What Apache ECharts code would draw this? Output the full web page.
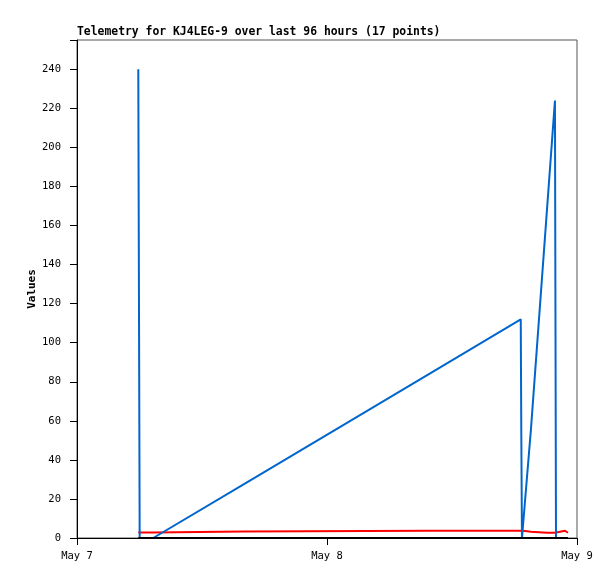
<!DOCTYPE html>
<html>
<head>
<meta charset="utf-8">
<script src="https://cdn.jsdelivr.net/npm/echarts@6/dist/echarts.min.js"></script>
<style>
html,body{margin:0;padding:0;background:#fff;}
#chart{width:615px;height:579px;}
</style>
</head>
<body>
<div id="chart"></div>
<script>
// Timestamps of the 17 telemetry points
const times = [
  "2024-05-07T05:53", "2024-05-07T05:57", "2024-05-07T06:01", "2024-05-07T07:19",
  "2024-05-07T16:02", "2024-05-08T09:42", "2024-05-08T18:36", "2024-05-08T18:39",
  "2024-05-08T18:43", "2024-05-08T18:49", "2024-05-08T19:35", "2024-05-08T21:07",
  "2024-05-08T21:53", "2024-05-08T21:56", "2024-05-08T21:59", "2024-05-08T22:51",
  "2024-05-08T23:08"
];
const blueValues  = [240, 120, 0, 0, 27.6, 83.7, 112, 56, 0, 0, 56, 168, 224, 112, 0, 0, 0];
const redValues   = [2.8, 2.8, 2.8, 2.8, 3.3, 3.7, 3.7, 3.7, 3.7, 3.7, 3.2, 2.7, 2.7, 2.7, 2.7, 3.7, 2.7];
const blackValues = [0, 0, 0, 0, 0, 0, 0, 0, 0, 0, 0, 0, 0, 0, 0, 0, 0];
const axisStart = "2024-05-07T00:00";
const xTickLabels = ["May 7", "May 8", "May 9"];
const yMax = 255;

const t0 = Date.parse(axisStart);
const hrs = times.map(t => (Date.parse(t) - t0) / 3600000);
const pair = vals => hrs.map((h, i) => [h, vals[i]]);

const chart = echarts.init(document.getElementById('chart'), null, {renderer: 'canvas'});
const mono = "'DejaVu Sans Mono', monospace";
const lineSeries = (name, vals, color, z) => ({
  name, type: 'line', data: pair(vals), showSymbol: false, symbol: 'none',
  lineStyle: {color, width: 2}, itemStyle: {color}, animation: false, clip: false, z
});
chart.setOption({
  animation: false,
  title: {
    text: 'Telemetry for KJ4LEG-9 over last 96 hours (17 points)',
    left: 72, top: 22,
    textStyle: {fontFamily: mono, fontSize: 11.4, fontWeight: 'bold', color: '#000'}
  },
  grid: {left: 77, right: 38, top: 40, bottom: 41, show: true, borderColor: '#555', borderWidth: 1},
  xAxis: {
    type: 'value', min: 0, max: 48, interval: 24,
    axisLine: {show: true, lineStyle: {color: '#000', width: 1}},
    axisTick: {show: true, inside: false, length: 7, lineStyle: {color: '#000'}},
    splitLine: {show: false},
    axisLabel: {
      color: '#000', fontFamily: mono, fontSize: 10.5, margin: 13,
      formatter: v => xTickLabels[Math.round(v / 24)] || ''
    }
  },
  yAxis: {
    type: 'value', min: 0, max: yMax, interval: 20,
    name: 'Values', nameLocation: 'middle', nameGap: 39, nameRotate: 90,
    nameMoveOverlap: false,
    nameTextStyle: {fontFamily: mono, fontSize: 11, fontWeight: 'bold', color: '#000'},
    axisLine: {show: true, lineStyle: {color: '#000', width: 1}},
    axisTick: {show: true, inside: false, length: 7, lineStyle: {color: '#000'}},
    splitLine: {show: false},
    axisLabel: {
      color: '#000', fontFamily: mono, fontSize: 10.5, margin: 16,
      formatter: v => (v > 240 ? '' : String(v))
    }
  },
  series: [
    lineSeries('red', redValues, '#ff0000', 2),
    lineSeries('blue', blueValues, '#0066cc', 3),
    lineSeries('black', blackValues, '#000000', 4)
  ]
});
</script>
</body>
</html>
